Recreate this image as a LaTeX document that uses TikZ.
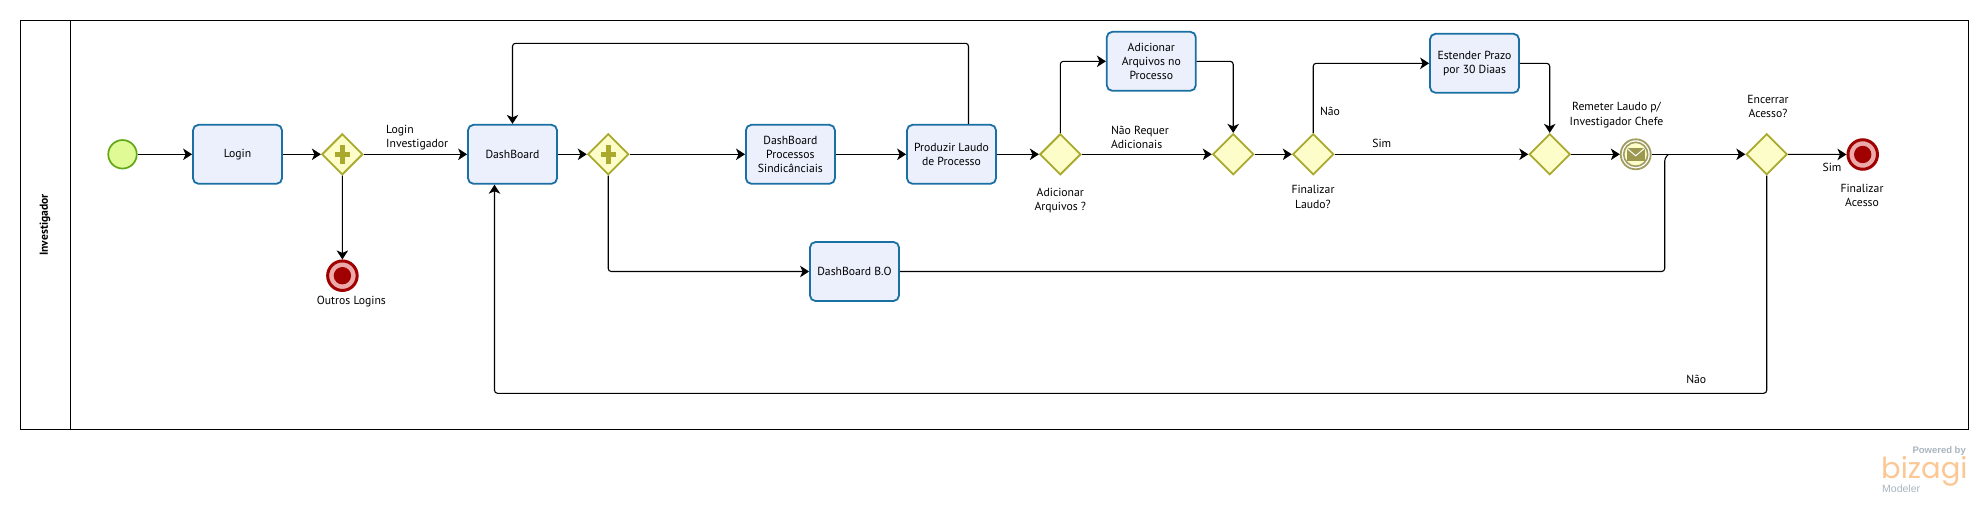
\documentclass[tikz,border=0pt]{standalone}
\usepackage{fontspec}
\setmainfont{PT Sans}
\newfontfamily\logofont{Poppins}
\newfontfamily\logosmall{Liberation Sans}
\usetikzlibrary{arrows.meta,shapes.geometric,positioning}
\definecolor{boxline}{HTML}{1A6FA3}
\definecolor{boxfill}{HTML}{EBF0FC}
\definecolor{gwline}{HTML}{A9A92E}
\definecolor{gwfill}{HTML}{FDFDC9}
\definecolor{startline}{HTML}{62A716}
\definecolor{startfill}{HTML}{E0FB96}
\definecolor{endline}{HTML}{A00000}
\definecolor{endring}{HTML}{EDAAAA}
\definecolor{msgline}{HTML}{A09C62}
\definecolor{msgfill}{HTML}{9C9850}
\definecolor{logoorange}{HTML}{FBC795}
\definecolor{logogrey}{HTML}{A9B4BE}
\tikzset{
  lane/.style={draw=black,line width=1pt,fill=none,rectangle,inner sep=0pt,outer sep=0pt},
  lanehead/.style={rectangle,inner sep=0pt,outer sep=0pt},
  laneline/.style={draw=black,line width=1pt},
  taskbox/.style={draw=boxline,fill=boxfill,line width=1.8pt,rectangle,rounded corners=5.5pt,
    minimum width=89pt,minimum height=59pt,inner sep=0pt,align=center,font=\lbl},
  gw/.style={draw=gwline,fill=gwfill,line width=1.8pt,diamond,aspect=1,
    minimum width=41pt,minimum height=41pt,inner sep=0pt},
  gwplus/.style={gw,path picture={
    \fill[gwline] ([xshift=-7.5pt,yshift=-2.6pt]path picture bounding box.center) rectangle ([xshift=7.5pt,yshift=2.6pt]path picture bounding box.center);
    \fill[gwline] ([xshift=-2.6pt,yshift=-9.5pt]path picture bounding box.center) rectangle ([xshift=2.6pt,yshift=9.5pt]path picture bounding box.center);}},
  startev/.style={circle,draw=startline,fill=startfill,line width=1.7pt,minimum size=28.5pt,inner sep=0pt},
  endev/.style={circle,draw=endline,fill=endring,line width=3pt,minimum size=29.5pt,inner sep=0pt,
    path picture={\fill[endline] (path picture bounding box.center) circle (8.7pt);}},
  msgev/.style={circle,draw=msgline,fill=white,line width=1.8pt,minimum size=30pt,inner sep=0pt,
    path picture={
      \draw[msgline,line width=1.6pt,fill=gwfill] (path picture bounding box.center) circle (12pt);
      \fill[msgfill] ([xshift=-8.8pt,yshift=-6.8pt]path picture bounding box.center) rectangle ([xshift=8.8pt,yshift=6.8pt]path picture bounding box.center);
      \draw[white,line width=1pt] ([xshift=-8.8pt,yshift=6pt]path picture bounding box.center) -- ([yshift=-1.5pt]path picture bounding box.center) -- ([xshift=8.8pt,yshift=6pt]path picture bounding box.center);}},
  txt/.style={inner sep=0pt,align=center,font=\lbl},
  txtl/.style={inner sep=0pt,align=left,font=\lbl},
  flow/.style={draw=black,line width=1.1pt,rounded corners=3pt,-{Stealth[length=9pt,width=11.5pt,inset=2.5pt]}},
  flowplain/.style={draw=black,line width=1.1pt,rounded corners=3pt}
}
\newcommand{\lbl}{\fontsize{11.7}{14.2}\selectfont}
\begin{document}
\begin{tikzpicture}[x=1pt,y=-1pt]
\useasboundingbox (0,0) rectangle (1988,522);
% pool
\node[lane,minimum width=1948pt,minimum height=409pt] (pool) at (994.5,225) {};
\node[lanehead,minimum width=50pt,minimum height=409pt] (head) at (45.5,225) {};
\draw[laneline] (head.north east) -- (head.south east);
\node[inner sep=0pt,rotate=90,font=\fontsize{11.6}{14}\selectfont\bfseries] (headtxt) at (45,225) {Investigador};
% elements
\node[startev] (start) at (122.5,154.3) {};
\node[taskbox] (login) at (237.5,154.3) {Login};
\node[gwplus] (g1) at (342.3,154.3) {};
\node[endev] (end1) at (342.4,275.7) {};
\node[taskbox] (dash) at (512.5,154.3) {DashBoard};
\node[gwplus] (g2) at (608.2,154.3) {};
\node[taskbox] (proc) at (790.4,154.3) {DashBoard\\Processos\\Sindicânciais};
\node[taskbox] (prod) at (951.5,154.3) {Produzir Laudo\\de Processo};
\node[taskbox] (bo) at (854.5,271.5) {DashBoard B.O};
\node[gw] (g3) at (1060.3,154.3) {};
\node[taskbox] (arq) at (1151.3,61.3) {Adicionar\\Arquivos no\\Processo};
\node[gw] (g4) at (1233.2,154.3) {};
\node[gw] (g5) at (1313.2,154.3) {};
\node[taskbox] (est) at (1474.5,63.3) {Estender Prazo\\por 30 Diaas};
\node[gw] (g6) at (1549.7,154.3) {};
\node[msgev] (msg) at (1635.7,154.3) {};
\node[gw] (g7) at (1766.7,154.3) {};
\node[endev] (end2) at (1862.7,154.5) {};
% helper coordinates
\coordinate (topy) at (0,43.3);
\coordinate (lowy) at (0,393.3);
\coordinate (mA) at (1664.7,158);
\coordinate (mB) at (1668.5,154.3);
% labels
\node[txtl,anchor=west] (t1) at (386,137.5) {Login\\Investigador};
\node[txt] (t2) at (351.4,302) {Outros Logins};
\node[txt] (t3) at (1060.3,200.7) {Adicionar\\Arquivos ?};
\node[txtl,anchor=west] (t4) at (1110.8,137.5) {Não Requer\\Adicionais};
\node[txt] (t5) at (1330,111) {Não};
\node[txt] (t6) at (1313,197) {Finalizar\\Laudo?};
\node[txt] (t7) at (1381.8,143.3) {Sim};
\node[txt] (t8) at (1616.5,115) {Remeter Laudo p/\\Investigador Chefe};
\node[txt] (t9) at (1768,106.7) {Encerrar\\Acesso?};
\node[txt] (t10) at (1832,167.3) {Sim};
\node[txt] (t11) at (1862,195.3) {Finalizar\\Acesso};
\node[txt] (t12) at (1696.2,379) {Não};
% connectors
\draw[flow] (start) -- (login);
\draw[flow] (login) -- (g1);
\draw[flow] (g1) -- (dash);
\draw[flow] (g1) -- (end1);
\draw[flow] (dash) -- (g2);
\draw[flow] (g2) -- (proc);
\draw[flow] (proc) -- (prod);
\draw[flow] (prod) -- (g3);
\draw[flow] (g2.south) |- (bo.west);
\draw[flow] ([xshift=17pt]prod.north) -- ([xshift=17pt]prod.north |- topy) -| (dash.north);
\draw[flow] (g3.north) |- (arq.west);
\draw[flow] (g3) -- (g4);
\draw[flow] (arq.east) -| (g4.north);
\draw[flow] (g4) -- (g5);
\draw[flow] (g5.north) |- (est.west);
\draw[flow] (g5) -- (g6);
\draw[flow] (est.east) -| (g6.north);
\draw[flow] (g6) -- (msg);
\draw[flow] (msg) -- (g7);
\draw[flow] (g7) -- (end2);
\draw[flowplain] (bo.east) -| (mA) -- (mB);
\draw[flow] (g7.south) -- (g7.south |- lowy) -| ([xshift=-18pt]dash.south);
% logo
\node[inner sep=0pt,anchor=east,text=logogrey,font=\logosmall\fontsize{9.5}{10}\selectfont\bfseries] (lg1) at (1966,451) {Powered by};
\node[inner sep=0pt,anchor=base west,text=logoorange,font=\logofont\fontsize{29}{30}\selectfont] (lg2) at (1881,478) {bizagi};
\node[inner sep=0pt,anchor=west,text=logogrey,font=\logosmall\fontsize{10.5}{11}\selectfont] (lg3) at (1882,489) {Modeler};
\end{tikzpicture}
\end{document}
